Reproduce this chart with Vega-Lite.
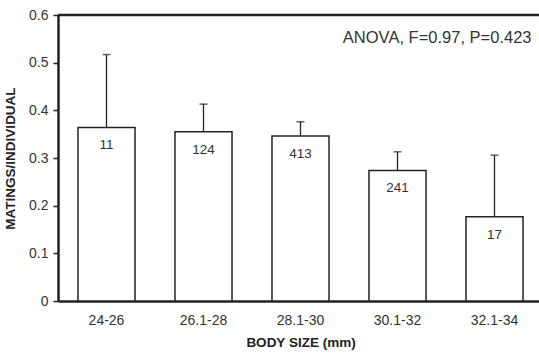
{
  "$schema": "https://vega.github.io/schema/vega-lite/v6.json",
  "autosize": {"type": "none"},
  "width": 481,
  "height": 286,
  "padding": {"left": 58, "top": 15, "right": 0, "bottom": 52},
  "background": "white",
  "config": {
    "view": {"stroke": null},
    "font": "Liberation Sans",
    "axis": {"grid": false, "domainColor": "#222", "domainWidth": 2.5, "labelColor": "#333", "titleColor": "#222", "labelFont": "Liberation Sans", "titleFont": "Liberation Sans"}
  },
  "datasets": {
    "bars": [
      {"size": "24-26", "mean": 0.364, "upper": 0.517, "n": "11"},
      {"size": "26.1-28", "mean": 0.355, "upper": 0.413, "n": "124"},
      {"size": "28.1-30", "mean": 0.346, "upper": 0.376, "n": "413"},
      {"size": "30.1-32", "mean": 0.274, "upper": 0.313, "n": "241"},
      {"size": "32.1-34", "mean": 0.177, "upper": 0.306, "n": "17"}
    ],
    "note": [
      {"label": "ANOVA, F=0.97, P=0.423", "size": "32.1-34", "y": 0.552, "top": 0.6}
    ]
  },
  "data": {"name": "bars"},
  "encoding": {
    "x": {
      "field": "size", "type": "nominal", "sort": null,
      "scale": {"range": [0, 485], "paddingInner": 0.412, "paddingOuter": 0.206},
      "axis": {"title": "BODY SIZE (mm)", "labelAngle": 0, "ticks": false, "labelPadding": 12, "labelFontSize": 14, "titleFontSize": 13.5, "titleFontWeight": "bold", "titlePadding": 8}
    }
  },
  "layer": [
    {
      "mark": {"type": "rule", "stroke": "#222", "strokeWidth": 1.3},
      "encoding": {
        "y": {"field": "mean", "type": "quantitative"},
        "y2": {"field": "upper"}
      }
    },
    {
      "mark": {"type": "tick", "color": "#222", "size": 8, "thickness": 1.5, "orient": "horizontal"},
      "encoding": {
        "y": {"field": "upper", "type": "quantitative"}
      }
    },
    {
      "mark": {"type": "bar", "fill": "white", "stroke": "#222", "strokeWidth": 1.5},
      "encoding": {
        "y": {
          "field": "mean", "type": "quantitative",
          "scale": {"domain": [0, 0.6], "nice": false},
          "axis": {"title": "MATINGS/INDIVIDUAL", "values": [0, 0.1, 0.2, 0.3, 0.4, 0.5, 0.6], "format": "~g", "tickSize": 5, "tickWidth": 1.5, "tickColor": "#222", "labelPadding": 5, "labelFontSize": 14, "titleFontSize": 13.5, "titleFontWeight": "bold", "titlePadding": 11}
        }
      }
    },
    {
      "mark": {"type": "text", "dy": 18, "baseline": "middle", "fontSize": 13.5, "color": "#333"},
      "encoding": {
        "y": {"field": "mean", "type": "quantitative"},
        "text": {"field": "n"}
      }
    },
    {
      "data": {"name": "note"},
      "mark": {"type": "rule", "stroke": "#222", "strokeWidth": 2.5},
      "encoding": {"x": null, "y": {"field": "top", "type": "quantitative"}}
    },
    {
      "data": {"name": "note"},
      "mark": {"type": "text", "align": "right", "baseline": "middle", "dx": 37, "fontSize": 16.5, "color": "#333"},
      "encoding": {
        "y": {"field": "y", "type": "quantitative"},
        "text": {"field": "label"}
      }
    }
  ]
}
